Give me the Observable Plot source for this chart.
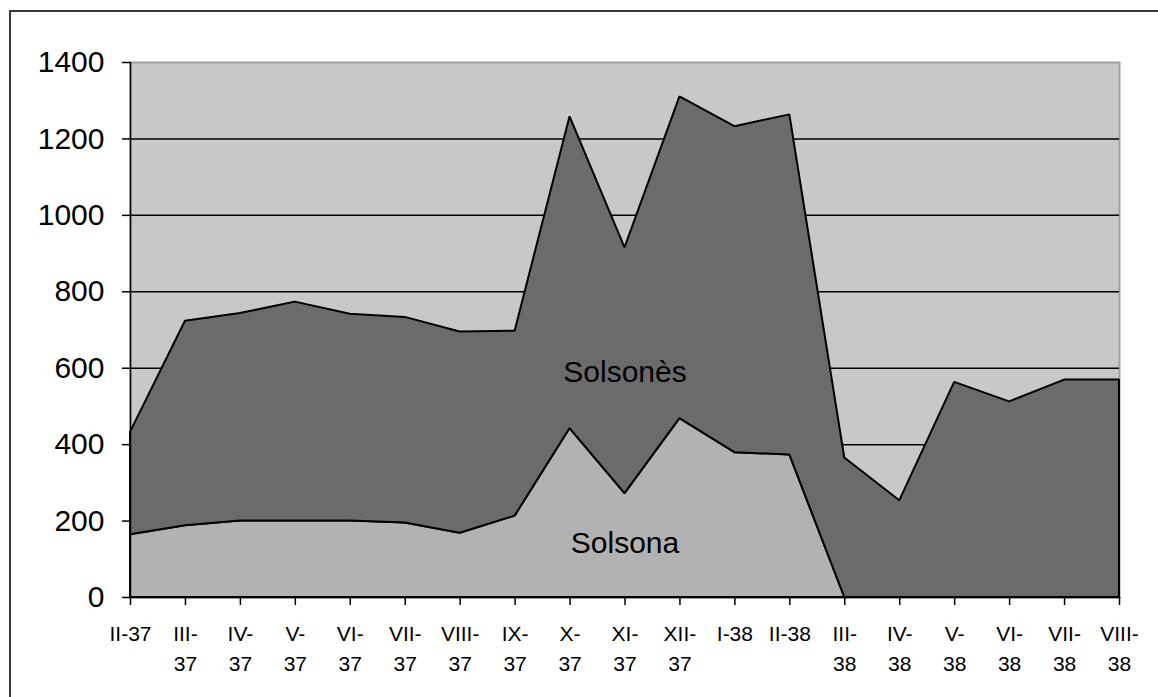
<!DOCTYPE html>
<html>
<head>
<meta charset="utf-8">
<script src="https://cdn.jsdelivr.net/npm/d3@7"></script>
<script src="https://cdn.jsdelivr.net/npm/@observablehq/plot@0.6"></script>
<style>
  html, body { margin: 0; padding: 0; background: #fff; overflow: hidden; width: 1158px; height: 697px; }
  #chart { position: absolute; left: 0; top: 0; }
  #frame { position: absolute; left: 9px; top: 10px; width: 1200px; height: 800px; border: 2px solid #3a3a3a; pointer-events: none; }
</style>
</head>
<body>
<div id="chart"></div>
<div id="frame"></div>
<script>
const months = ["II-37","III-37","IV-37","V-37","VI-37","VII-37","VIII-37","IX-37","X-37","XI-37","XII-37","I-38","II-38","III-38","IV-38","V-38","VI-38","VII-38","VIII-38"];
const tickLabels = ["II-37","III-\n37","IV-\n37","V-\n37","VI-\n37","VII-\n37","VIII-\n37","IX-\n37","X-\n37","XI-\n37","XII-\n37","I-38","II-38","III-\n38","IV-\n38","V-\n38","VI-\n38","VII-\n38","VIII-\n38"];
const seriesNames = ["Solsona", "Solsonès"];
const solsona  = [164, 188, 200, 200, 200, 195, 168, 213, 442, 272, 468, 379, 373, 0, 0, 0, 0, 0, 0];
const solsones = [268, 535, 543, 573, 541, 538, 527, 484, 816, 643, 842, 853, 890, 365, 253, 563, 512, 569, 569];
const yTicks = [0, 200, 400, 600, 800, 1000, 1200, 1400];
const gridTicks = [200, 400, 600, 800, 1000, 1200];

const data = months.flatMap((m, i) => [
  {idx: i, month: m, series: seriesNames[0], value: solsona[i]},
  {idx: i, month: m, series: seriesNames[1], value: solsones[i]}
]);
const monthIdx = months.map((m, i) => i);

const font = "'Liberation Sans', Arial, sans-serif";

const chart = Plot.plot({
  width: 1158,
  height: 697,
  marginLeft: 130,
  marginRight: 39,
  marginTop: 62,
  marginBottom: 100,
  style: {fontFamily: font, background: "transparent", color: "#000"},
  x: {type: "linear", domain: [0, months.length - 1]},
  y: {domain: [0, 1400]},
  color: {domain: seriesNames, range: ["#b2b2b2", "#6b6b6b"]},
  marks: [
    Plot.frame({fill: "#c8c8c8", stroke: "#a0a0a0", strokeWidth: 2}),
    Plot.gridY(gridTicks, {stroke: "#000", strokeOpacity: 1, strokeWidth: 1.5}),
    Plot.areaY(data, {x: "idx", y: "value", fill: "series", stroke: "#000", strokeWidth: 2, strokeLinejoin: "miter", order: seriesNames}),
    Plot.frame({anchor: "left", stroke: "#000", strokeWidth: 1.5}),
    Plot.frame({anchor: "bottom", stroke: "#000", strokeWidth: 1.5}),
    Plot.axisY({ticks: yTicks, tickSize: 8, tickPadding: 18, fontSize: 30, tickFormat: d => String(d), stroke: "#000", strokeWidth: 1.5, label: null}),
    Plot.axisX({ticks: monthIdx, tickSize: 8, tickPadding: 14, fontSize: 21, lineHeight: 1.43, tickFormat: d => tickLabels[d], stroke: "#000", strokeWidth: 1.5, label: null}),
    Plot.text([seriesNames[1]], {x: () => 9, y: () => 590, text: d => d, fontSize: 30, fill: "#000"}),
    Plot.text([seriesNames[0]], {x: () => 9, y: () => 141, text: d => d, fontSize: 30, fill: "#000"})
  ]
});
document.getElementById("chart").appendChild(chart);
</script>
</body>
</html>
